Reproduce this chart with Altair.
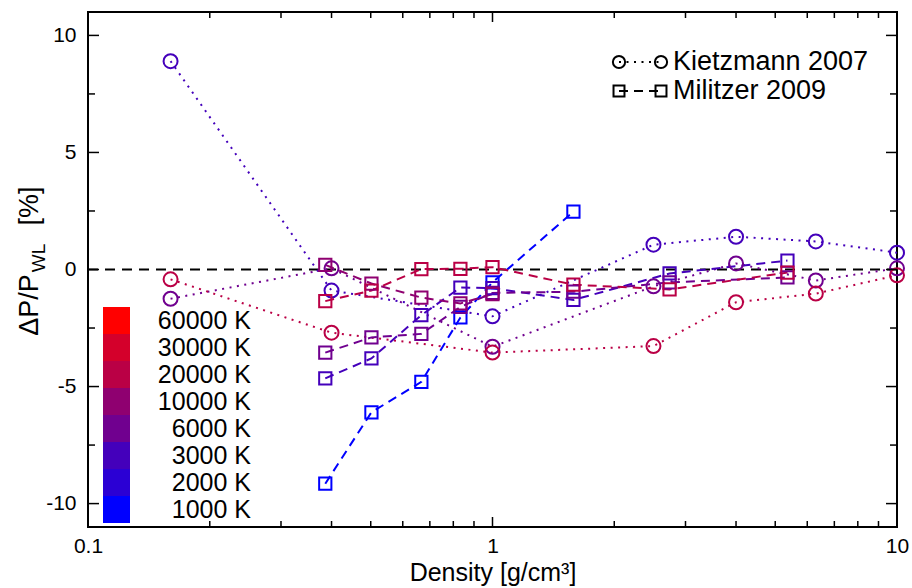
import altair as alt
import pandas as pd

FONT = "Liberation Sans"

# ---- temperature colour key ----
T_LABELS = ["60000 K", "30000 K", "20000 K", "10000 K", "6000 K", "3000 K", "2000 K", "1000 K"]
T_COLORS = ["#ff0000", "#d4002b", "#ba0045", "#8f0070", "#70008f", "#4400bb", "#2b00d4", "#0000ff"]

# ---- Kietzmann 2007 (circles, dotted) ----
K_RHO = [0.16, 0.40, 1.0, 2.5, 4.0, 6.3, 10.0]
K_3000 = [8.9, -0.9, -2.0, 1.06, 1.4, 1.2, 0.72]
K_6000 = [-1.25, 0.05, -3.3, -0.72, 0.26, -0.47, 0.05]
K_20000 = [-0.42, -2.7, -3.55, -3.27, -1.4, -1.03, -0.25]

# ---- Militzer 2009 (squares, dashed) ----
M_RHO = [0.386, 0.502, 0.667, 0.833, 1.0, 1.585, 2.74, 5.36]
M_1000 = [-9.15, -6.1, -4.8, -2.05, -0.55, 2.47]
M_3000 = [-4.65, -3.8, -1.95, -0.77, -0.8, -1.3, -0.17, 0.38]
M_6000 = [-3.55, -2.9, -2.75, -1.6, -1.0, -0.95, -0.55, -0.34]
M_10000 = [0.2, -0.6, -1.2, -1.45, -1.05]
M_20000 = [-1.35, -0.9, 0.02, 0.03, 0.1, -0.65, -0.85, -0.13]

X_MAJOR = [0.1, 1, 10]
X_MINOR = [0.2, 0.3, 0.4, 0.5, 0.6, 0.7, 0.8, 0.9, 2, 3, 4, 5, 6, 7, 8, 9]
Y_MAJOR = [-10, -5, 0, 5, 10]
Y_MINOR = [-7.5, -2.5, 2.5, 7.5]

LEGEND_NAMES = ["Kietzmann 2007", "Militzer 2009"]

W, H = 809, 515

rows = []
for src, name, T, rho, vals in [
    ("K", "K3000", "3000 K", K_RHO, K_3000),
    ("K", "K6000", "6000 K", K_RHO, K_6000),
    ("K", "K20000", "20000 K", K_RHO, K_20000),
    ("M", "M1000", "1000 K", M_RHO, M_1000),
    ("M", "M3000", "3000 K", M_RHO, M_3000),
    ("M", "M6000", "6000 K", M_RHO, M_6000),
    ("M", "M10000", "10000 K", M_RHO, M_10000),
    ("M", "M20000", "20000 K", M_RHO, M_20000),
]:
    for r, v in zip(rho, vals):
        rows.append({"src": src, "series": name, "T": T, "rho": r, "dp": v})
df = pd.DataFrame(rows)
dfK = df[df.src == "K"]
dfM = df[df.src == "M"]

color_scale = alt.Scale(domain=T_LABELS, range=T_COLORS)
col = alt.Color("T:N", scale=color_scale, legend=None)

x_enc = alt.X(
    "rho:Q",
    scale=alt.Scale(type="log", domain=[0.1, 10], nice=False),
    axis=alt.Axis(values=X_MAJOR, labelExpr="'' + datum.value", labelPadding=8, labelFlush=False,
                  title="Density [g/cm³]", titlePadding=4),
)
y_enc = alt.Y(
    "dp:Q",
    scale=alt.Scale(domain=[-11, 11], nice=False, zero=False),
    axis=alt.Axis(values=Y_MAJOR, labelExpr="'' + datum.value", labelPadding=12, labelFlush=False, title=None),
)

zero = alt.Chart(pd.DataFrame({"dp": [0]})).mark_rule(
    color="black", strokeWidth=2, strokeDash=[10, 7]
).encode(y=y_enc)

k_lines = alt.Chart(dfK).mark_line(strokeWidth=2, strokeDash=[2, 5.5]).encode(
    x=x_enc, y=y_enc, color=col, detail="series:N")
m_lines = alt.Chart(dfM).mark_line(strokeWidth=2, strokeDash=[9, 6]).encode(
    x=x_enc, y=y_enc, color=col, detail="series:N")
k_pts = alt.Chart(dfK).mark_point(shape="circle", filled=False, size=196, strokeWidth=2, opacity=1).encode(
    x=x_enc, y=y_enc, color=col)
m_pts = alt.Chart(dfM).mark_point(shape="square", filled=False, size=150, strokeWidth=2, opacity=1).encode(
    x=x_enc, y=y_enc, color=col)

# inward ticks on all four sides
xmaj = pd.DataFrame({"rho": X_MAJOR})
xmin = pd.DataFrame({"rho": X_MINOR})
ymaj = pd.DataFrame({"dp": Y_MAJOR})
ymin = pd.DataFrame({"dp": Y_MINOR})
tick_style = dict(color="black", strokeWidth=1.5)
ticks = [
    alt.Chart(xmaj).mark_rule(**tick_style).encode(x=x_enc, y=alt.value(H), y2=alt.value(H - 10)),
    alt.Chart(xmin).mark_rule(**tick_style).encode(x=x_enc, y=alt.value(H), y2=alt.value(H - 6)),
    alt.Chart(xmaj).mark_rule(**tick_style).encode(x=x_enc, y=alt.value(0), y2=alt.value(10)),
    alt.Chart(xmin).mark_rule(**tick_style).encode(x=x_enc, y=alt.value(0), y2=alt.value(6)),
    alt.Chart(ymaj).mark_rule(**tick_style).encode(y=y_enc, x=alt.value(0), x2=alt.value(11)),
    alt.Chart(ymin).mark_rule(**tick_style).encode(y=y_enc, x=alt.value(0), x2=alt.value(7)),
    alt.Chart(ymaj).mark_rule(**tick_style).encode(y=y_enc, x=alt.value(W), x2=alt.value(W - 11)),
    alt.Chart(ymin).mark_rule(**tick_style).encode(y=y_enc, x=alt.value(W), x2=alt.value(W - 7)),
]

# source legend (top right)
one = pd.DataFrame({"name": LEGEND_NAMES})
leg_k = one[one.name == LEGEND_NAMES[0]]
leg_m = one[one.name == LEGEND_NAMES[1]]
src_legend = [
    alt.Chart(leg_k).mark_rule(color="black", strokeWidth=2, strokeDash=[2, 5.5]).encode(
        x=alt.value(531), x2=alt.value(573), y=alt.value(50)),
    alt.Chart(leg_k).mark_point(shape="circle", filled=False, size=150, strokeWidth=2, color="black", opacity=1).encode(
        x=alt.value(531), y=alt.value(50)),
    alt.Chart(leg_k).mark_point(shape="circle", filled=False, size=150, strokeWidth=2, color="black", opacity=1).encode(
        x=alt.value(573), y=alt.value(50)),
    alt.Chart(leg_k).mark_text(align="left", baseline="middle", font=FONT, fontSize=27, color="black").encode(
        x=alt.value(585), y=alt.value(50), text="name:N"),
    alt.Chart(leg_m).mark_rule(color="black", strokeWidth=2, strokeDash=[9, 6]).encode(
        x=alt.value(531), x2=alt.value(573), y=alt.value(79)),
    alt.Chart(leg_m).mark_point(shape="square", filled=False, size=120, strokeWidth=2, color="black", opacity=1).encode(
        x=alt.value(531), y=alt.value(79)),
    alt.Chart(leg_m).mark_point(shape="square", filled=False, size=120, strokeWidth=2, color="black", opacity=1).encode(
        x=alt.value(573), y=alt.value(79)),
    alt.Chart(leg_m).mark_text(align="left", baseline="middle", font=FONT, fontSize=27, color="black").encode(
        x=alt.value(585), y=alt.value(79), text="name:N"),
]

# y axis title with subscript
ytitle_df = pd.DataFrame({"a": ["ΔP/P", "WL", "[%]"]})
ytitle = [
    alt.Chart(ytitle_df[ytitle_df.a == "ΔP/P"]).mark_text(angle=270, align="center", baseline="middle",
        font=FONT, fontSize=27, color="black").encode(x=alt.value(-58), y=alt.value(293), text="a:N"),
    alt.Chart(ytitle_df[ytitle_df.a == "WL"]).mark_text(angle=270, align="center", baseline="middle",
        font=FONT, fontSize=19, color="black").encode(x=alt.value(-49), y=alt.value(246), text="a:N"),
    alt.Chart(ytitle_df[ytitle_df.a == "[%]"]).mark_text(angle=270, align="center", baseline="middle",
        font=FONT, fontSize=27, color="black").encode(x=alt.value(-58), y=alt.value(194), text="a:N"),
]

main = alt.layer(zero, k_lines, m_lines, k_pts, m_pts, *ticks, *src_legend, *ytitle)

# temperature colour key drawn from the temperature list through a band scale
tdf = pd.DataFrame({"T": T_LABELS})
ty = alt.Y("T:N", scale=alt.Scale(domain=T_LABELS, range=[295, 511], paddingInner=0, paddingOuter=0), axis=None)
t_rect = alt.Chart(tdf).mark_rect(opacity=1).encode(
    x=alt.value(15), x2=alt.value(42), y=ty, color=col)
t_text = alt.Chart(tdf).mark_text(align="right", baseline="middle", font=FONT, fontSize=25, color="black").encode(
    x=alt.value(163), y=ty, text="T:N")
tkey = alt.layer(t_rect, t_text)

chart = alt.layer(main, tkey).resolve_scale(y="independent").properties(
    width=W, height=H,
    padding={"left": 88, "top": 12, "right": 15, "bottom": 61},
    autosize=alt.AutoSizeParams(type="none"),
    background="white",
).configure_view(
    stroke="black", strokeWidth=2
).configure_axis(
    grid=False, domain=False, ticks=False, tickSize=0,
    labelFont=FONT, labelFontSize=21, labelColor="black",
    titleFont=FONT, titleFontSize=25, titleFontWeight="normal", titleColor="black",
)

chart.save("out.html", embed_options={"renderer": "svg", "actions": False})
